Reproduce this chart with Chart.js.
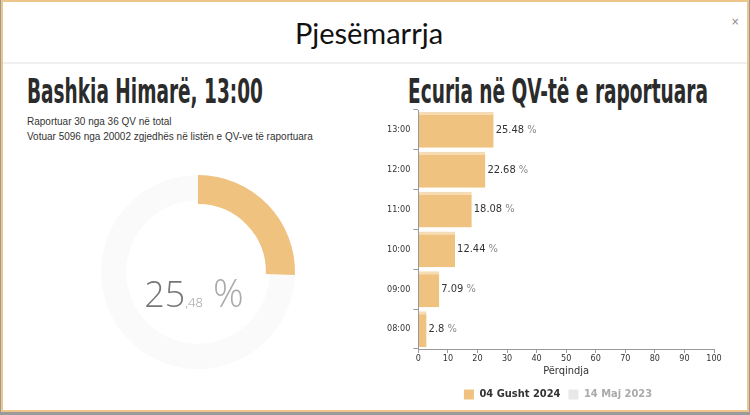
<!DOCTYPE html>
<html>
<head>
<meta charset="utf-8">
<script src="https://cdn.jsdelivr.net/npm/chart.js@4/dist/chart.umd.min.js"></script>
<style>
  html, body { margin:0; padding:0; width:750px; height:415px; overflow:hidden; background:#9a9a9a; }
  #modal { position:absolute; left:1px; top:0px; width:744px; height:408px; background:#fff; border:2px solid #eec58a; }
  #title { position:absolute; left:0; width:732px; top:13px; text-align:center; font-family:"Lato","Open Sans",sans-serif; font-size:29px; color:#111; }
  #close { position:absolute; left:728px; top:14px; font-family:"DejaVu Sans",sans-serif; font-size:10px; color:#888; }
  #sep { position:absolute; left:0; top:60px; width:744px; height:2px; background:#efefef; }
  .head { position:absolute; top:70px; font-family:"Liberation Sans Narrow","DejaVu Sans Condensed",sans-serif; font-weight:bold; font-size:33px; color:#2b2b2b; white-space:nowrap; transform-origin:0 0; }
  .info { position:absolute; left:24px; font-family:"Liberation Sans",Arial,sans-serif; font-size:10px; color:#333; white-space:nowrap; }
  #ring1, #ring2 { position:absolute; }
  #pct { position:absolute; left:94px; width:200px; top:266px; text-align:center; font-family:"Open Sans","Lato",sans-serif; font-weight:300; white-space:nowrap; }
  #pct .big { font-size:36px; color:#777; }
  #pct .dec { font-size:13px; color:#999; margin-right:6px; }
  #pct .sym { font-size:38px; color:#aaa; font-weight:300; }
  #barWrap { position:absolute; left:384px; top:98px; width:356px; height:314px; }
</style>
</head>
<body>
<div id="modal">
  <div id="title">Pjesëmarrja</div>
  <div id="close">×</div>
  <div id="sep"></div>
  <div class="head" id="h1" style="left:24px;">Bashkia Himarë, 13:00</div>
  <div class="head" id="h2" style="left:405px;">Ecuria në QV-të e raportuara</div>
  <div class="info" style="top:114px;">Raportuar 30 nga 36 QV në total</div>
  <div class="info" style="top:129px;">Votuar 5096 nga 20002 zgjedhës në listën e QV-ve të raportuara</div>
</div>
<canvas id="ring1" width="200" height="200" style="left:98px;top:172px;width:200px;height:200px;"></canvas>
<canvas id="ring2" width="200" height="200" style="left:98px;top:172px;width:200px;height:200px;"></canvas>
<div id="pct"><span class="big">25</span><span class="dec">,48</span> <span class="sym">%</span></div>
<div id="barWrap"><canvas id="bar"></canvas></div>
<script>
// ---- data ----
const hours = ['13:00', '12:00', '11:00', '10:00', '09:00', '08:00'];
const turnout2024 = [25.48, 22.68, 18.08, 12.44, 7.09, 2.8];
const turnout2023 = [];
const seriesNames = ['04 Gusht 2024', '14 Maj 2023'];
const currentPct = 25.48;
const xTicks = [0, 10, 20, 30, 40, 50, 60, 70, 80, 90, 100];

// fit headings
function fit(id, w) {
  const el = document.getElementById(id);
  const r = el.getBoundingClientRect().width;
  el.style.transform = 'scale(' + (w / r) + ',1)';
}
fit('h1', 236); fit('h2', 300);

const ORANGE = '#efc27f';

// background ring
new Chart(document.getElementById('ring1'), {
  type: 'doughnut',
  data: { labels: ['bg'], datasets: [{ data: [100], backgroundColor: ['#fafafa'], borderWidth: 0 }] },
  options: { responsive: false, animation: false, radius: 97, cutout: 74,
    plugins: { legend: { display: false }, tooltip: { enabled: false } }, events: [] }
});
// value ring
new Chart(document.getElementById('ring2'), {
  type: 'doughnut',
  data: { labels: ['v', 'rest'], datasets: [{ data: [currentPct, 100 - currentPct], backgroundColor: [ORANGE, 'rgba(0,0,0,0)'], borderWidth: 0 }] },
  options: { responsive: false, animation: false, radius: 97, cutout: 70,
    plugins: { legend: { display: false }, tooltip: { enabled: false } }, events: [] }
});

const valueLabels = {
  id: 'valueLabels',
  afterLayout(chart) {
    if (chart.legend) { chart.legend.left += 9; chart.legend.right += 9; }
  },
  afterDatasetsDraw(chart) {
    const ctx = chart.ctx;
    const meta = chart.getDatasetMeta(0);
    ctx.save();
    ctx.font = '11px "DejaVu Sans Condensed", "DejaVu Sans", sans-serif';
    ctx.textBaseline = 'middle';
    meta.data.forEach((el, i) => {
      const txt = String(turnout2024[i]);
      ctx.fillStyle = '#333';
      ctx.fillText(txt, el.x + 2, el.y);
      const w = ctx.measureText(txt + ' ').width;
      ctx.fillStyle = '#888';
      ctx.fillText('%', el.x + 2 + w, el.y);
    });
    ctx.restore();
  }
};

new Chart(document.getElementById('bar'), {
  type: 'bar',
  data: {
    labels: hours,
    datasets: [
      { label: seriesNames[0], data: turnout2024, backgroundColor: ORANGE,
        borderColor: '#f6dcb4', borderWidth: { top: 3, left: 0, right: 0, bottom: 0 }, borderSkipped: false,
        barPercentage: 0.9, categoryPercentage: 1 },
      { label: seriesNames[1], data: turnout2023, backgroundColor: '#e8e8e8', hidden: true }
    ]
  },
  options: {
    indexAxis: 'y',
    responsive: true, maintainAspectRatio: false, animation: false, events: [],
    layout: { padding: { top: 12, right: 26, left: 0, bottom: 2 } },
    scales: {
      x: { min: 0, max: 100,
        afterBuildTicks: (s) => { s.ticks = xTicks.map(v => ({ value: v })); },
        grid: { drawOnChartArea: false, color: '#999', tickLength: 4 },
        border: { color: '#999' },
        ticks: { color: '#333', padding: 0, font: { family: '"DejaVu Sans Condensed", "DejaVu Sans"', size: 9 } },
        title: { display: true, text: 'Përqindja', color: '#333', padding: { top: 1, bottom: 3 }, font: { family: '"DejaVu Sans Condensed", "DejaVu Sans"', size: 11 } }
      },
      y: {
        grid: { drawOnChartArea: false, color: '#999', tickLength: 5 },
        border: { color: '#999' },
        ticks: { color: '#333', padding: 3, font: { family: '"DejaVu Sans Condensed", "DejaVu Sans"', size: 9 } }
      }
    },
    plugins: {
      tooltip: { enabled: false },
      legend: { position: 'bottom',
        labels: { boxWidth: 10, boxHeight: 10, padding: 8,
          font: { family: '"DejaVu Sans Condensed", "DejaVu Sans"', size: 11, weight: 'bold' },
          generateLabels: (chart) => chart.data.datasets.map((d, i) => ({
            text: d.label, fillStyle: d.backgroundColor, strokeStyle: d.backgroundColor, lineWidth: 0,
            hidden: false, fontColor: i === 0 ? '#333' : '#aaa', datasetIndex: i
          }))
        }
      }
    }
  },
  plugins: [valueLabels]
});
</script>
</body>
</html>
